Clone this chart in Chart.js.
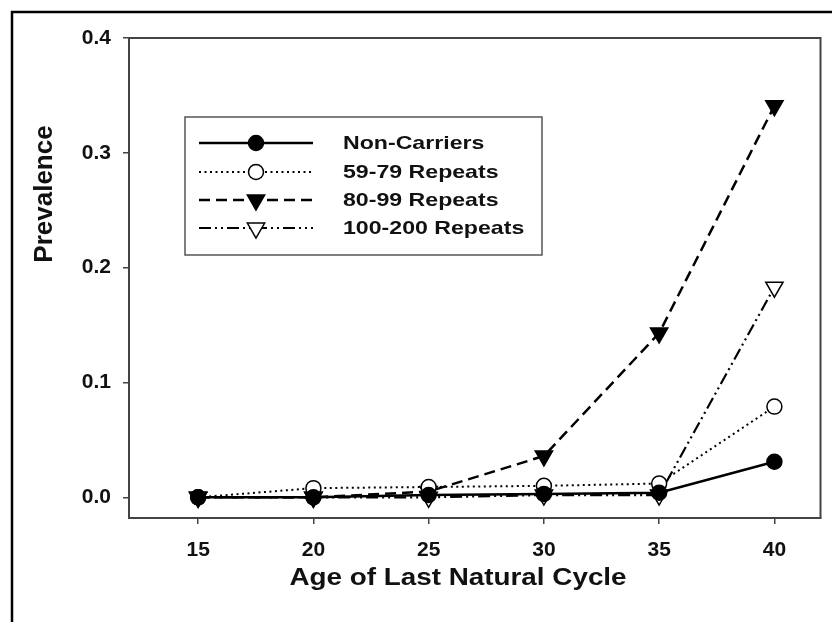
<!DOCTYPE html>
<html>
<head>
<meta charset="utf-8">
<script src="https://cdn.jsdelivr.net/npm/chart.js@4"></script>
<style>
  body { margin: 0; background: #fff; }
  canvas { display: block; }
</style>
</head>
<body>
<canvas id="chart" width="832" height="622"></canvas>
<script>
// ---- data ----
const ages = [15, 20, 25, 30, 35, 40];
const nonCarriers = [0, 0, 0.002, 0.003, 0.004, 0.031];
const repeats59_79 = [0, 0.008, 0.009, 0.010, 0.012, 0.079];
const repeats80_99 = [0, 0, 0.005, 0.036, 0.143, 0.341];
const repeats100_200 = [0, 0, 0, 0.002, 0.002, 0.183];
const xTicks = [15, 20, 25, 30, 35, 40];
const yTicks = [0, 0.1, 0.2, 0.3, 0.4];
const seriesNames = ['Non-Carriers', '59-79 Repeats', '80-99 Repeats', '100-200 Repeats'];

const FONT = '"Liberation Sans", Arial, sans-serif';
const AXIS = '#444';

function pts(vals) {
  return vals.map((v, i) => ({ x: ages[i], y: v }));
}

const datasets = [
  {
    label: seriesNames[0], data: pts(nonCarriers),
    borderColor: '#000', borderWidth: 2.5, borderDash: [],
    pointStyle: 'circle', pointRadius: 7.5, pointRotation: 0,
    pointBackgroundColor: '#000', pointBorderColor: '#000', pointBorderWidth: 1.5
  },
  {
    label: seriesNames[1], data: pts(repeats59_79),
    borderColor: '#000', borderWidth: 2, borderDash: [2, 3.5],
    pointStyle: 'circle', pointRadius: 7.5, pointRotation: 0,
    pointBackgroundColor: '#fff', pointBorderColor: '#000', pointBorderWidth: 1.5
  },
  {
    label: seriesNames[2], data: pts(repeats80_99),
    borderColor: '#000', borderWidth: 2.5, borderDash: [11, 6],
    pointStyle: 'triangle', pointRadius: 10, pointRotation: 180,
    pointBackgroundColor: '#000', pointBorderColor: '#000', pointBorderWidth: 1.5
  },
  {
    label: seriesNames[3], data: pts(repeats100_200),
    borderColor: '#000', borderWidth: 2.2, borderDash: [12, 4, 2, 4, 2, 4],
    pointStyle: 'triangle', pointRadius: 10, pointRotation: 180,
    pointBackgroundColor: '#fff', pointBorderColor: '#000', pointBorderWidth: 1.5
  }
];

// text in the original figure is a bit stretched sideways
function wideText(ctx, text, x, y, sx) {
  ctx.save();
  ctx.translate(x, y);
  ctx.scale(sx, 1);
  ctx.fillText(text, 0, 0);
  ctx.restore();
}

/*================== frame, plot box, legend and titles =========================*/
const extras = {
  id: 'extras',
  beforeDraw(chart) {
    const ctx = chart.ctx;
    ctx.save();
    ctx.fillStyle = '#fff';
    ctx.fillRect(0, 0, chart.width, chart.height);
    // outer frame of the figure (runs off the right and bottom)
    ctx.strokeStyle = '#000';
    ctx.lineWidth = 2.5;
    ctx.beginPath();
    ctx.moveTo(12, chart.height + 5);
    ctx.lineTo(12, 12);
    ctx.lineTo(chart.width + 5, 12);
    ctx.stroke();
    ctx.restore();
  },
  afterDraw(chart) {
    const ctx = chart.ctx;
    const a = chart.chartArea;
    ctx.save();

    // top and right edge of the plot box
    ctx.strokeStyle = AXIS;
    ctx.lineWidth = 2;
    ctx.beginPath();
    ctx.moveTo(a.left, a.top);
    ctx.lineTo(a.right, a.top);
    ctx.lineTo(a.right, a.bottom);
    ctx.stroke();

    // legend box
    const lx = 185, ly = 117, lw = 357, lh = 138;
    ctx.strokeStyle = '#555';
    ctx.lineWidth = 1.5;
    ctx.strokeRect(lx, ly, lw, lh);

    const rowY = [143, 172, 200, 228];
    chart.data.datasets.forEach((ds, i) => {
      const y = rowY[i];
      ctx.strokeStyle = ds.borderColor;
      ctx.lineWidth = ds.borderWidth;
      ctx.setLineDash(ds.borderDash);
      ctx.beginPath();
      ctx.moveTo(199, y);
      ctx.lineTo(313, y);
      ctx.stroke();
      ctx.setLineDash([]);
      ctx.fillStyle = ds.pointBackgroundColor;
      ctx.strokeStyle = ds.pointBorderColor;
      ctx.lineWidth = ds.pointBorderWidth;
      Chart.helpers.drawPoint(ctx, {
        pointStyle: ds.pointStyle,
        rotation: ds.pointRotation,
        radius: ds.pointRadius,
        borderWidth: ds.pointBorderWidth
      }, 256, y);
      ctx.fillStyle = '#111';
      ctx.font = 'bold 18.5px ' + FONT;
      ctx.textBaseline = 'middle';
      ctx.textAlign = 'left';
      wideText(ctx, ds.label, 343, y + 1, 1.25);
    });

    // axis titles
    ctx.fillStyle = '#111';
    ctx.font = 'bold 23px ' + FONT;
    ctx.textAlign = 'center';
    ctx.textBaseline = 'middle';
    wideText(ctx, 'Age of Last Natural Cycle', 458, 579, 1.21);

    ctx.font = 'bold 26px ' + FONT;
    ctx.translate(45, 194);
    ctx.rotate(-Math.PI / 2);
    ctx.fillText('Prevalence', 0, 0);
    ctx.restore();
  }
};

const ctx = document.getElementById('chart').getContext('2d');
const chart = new Chart(ctx, {
  type: 'line',
  data: { datasets: datasets },
  options: {
    responsive: false,
    animation: false,
    devicePixelRatio: 1,
    layout: { padding: { top: 38, right: 11, left: 0, bottom: 0 } },
    plugins: {
      legend: { display: false },
      tooltip: { enabled: false }
    },
    scales: {
      x: {
        type: 'linear',
        min: 12,
        max: 42,
        afterBuildTicks: s => { s.ticks = xTicks.map(v => ({ value: v })); },
        afterFit: s => { s.height = 104; },
        border: { color: AXIS, width: 2 },
        grid: { drawOnChartArea: false, drawTicks: true, tickLength: 6, color: AXIS, lineWidth: 1.5 },
        ticks: {
          color: '#111',
          padding: 14,
          maxRotation: 0,
          font: { family: FONT, size: 21, weight: 'bold' }
        }
      },
      y: {
        type: 'linear',
        min: -0.018,
        max: 0.4,
        afterBuildTicks: s => { s.ticks = yTicks.map(v => ({ value: v })); },
        afterFit: s => { s.width = 129; },
        border: { color: AXIS, width: 2 },
        grid: { drawOnChartArea: false, drawTicks: true, tickLength: 6, color: AXIS, lineWidth: 1.5 },
        ticks: {
          color: '#111',
          padding: 12,
          font: { family: FONT, size: 21, weight: 'bold' },
          callback: v => v.toFixed(1)
        }
      }
    }
  },
  plugins: [extras]
});
</script>
</body>
</html>
